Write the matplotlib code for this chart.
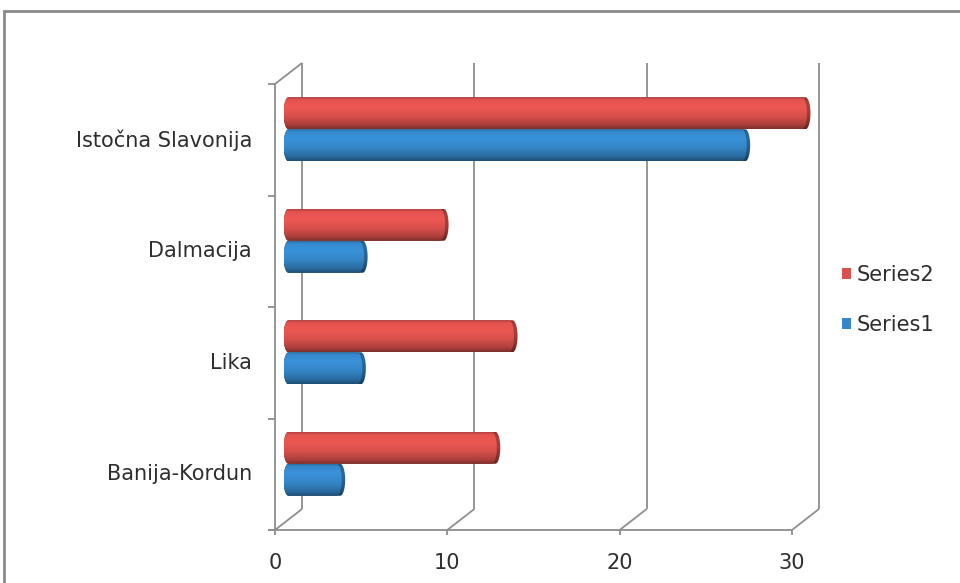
import numpy as np
import matplotlib
matplotlib.use("Agg")
import matplotlib.pyplot as plt
from matplotlib.path import Path
from matplotlib.patches import PathPatch, Patch, Rectangle
import matplotlib.colors as mcolors

plt.rcParams["font.family"] = ["DejaVu Sans"]

# ── data ──────────────────────────────────────
categories = ["Banija-Kordun", "Lika", "Dalmacija", "Istočna Slavonija"]
series1 = [3.0, 4.2, 4.3, 26.5]
series2 = [12.0, 13.0, 9.0, 30.0]
xticks = [0, 10, 20, 30]
series_names = ["Series1", "Series2"]

RED = "#dc514d"
BLUE = "#3587c9"
GRID = "#8e8e8e"
TXT = "#2e2e2e"
FS = 15

# ── figure / pixel-aligned axes ───────────────
W, H = 960, 583
fig = plt.figure(figsize=(W / 100, H / 100), dpi=100, facecolor="white")
ax = fig.add_axes([0, 0, 1, 1])
ax.axis("off")

K = 17.233    # px per value unit
U = 111.5     # px per category band
X0, Y0 = 275, 53  # origin of the front plane (px from left / bottom)

dx = 27 / K   # depth offset of the back wall
dy = 21 / U
ncat = len(categories)

# ── walls, floor, grid ───────────────────────
lkw = dict(color=GRID, lw=1.3, solid_capstyle="butt", zorder=1)
for v in xticks:
    ax.plot([v + dx, v + dx], [dy, ncat + dy], **lkw)        # back wall grid
    ax.plot([v, v + dx], [0, dy], **lkw)                    # floor diagonals
    ax.plot([v, v], [0, -5 / U], **lkw)                     # tick marks
    ax.text(v, -33 / U, str(v), ha="center", va="center",
            fontsize=FS, color=TXT)
ax.plot([-7 / K, xticks[-1]], [0, 0], **lkw)               # front floor edge
ax.plot([0, 0], [0, ncat], **lkw)                           # left wall front edge
ax.plot([0, dx], [ncat, ncat + dy], **lkw)                  # left wall top
for i in range(ncat + 1):
    ax.plot([-7 / K, 0], [i, i], **lkw)

for i, name in enumerate(categories):
    ax.text(-23 / K, i + 0.5, name, ha="right", va="center",
            fontsize=FS, color=TXT)


# ── cylinder bars ─────────────────────────────
def body_path(x0, x1, y0, y1, cw):
    # horizontal cylinder outline with elliptical ends
    yc, ry = (y0 + y1) / 2, (y1 - y0) / 2
    t = np.linspace(np.pi / 2, -np.pi / 2, 30)
    right = np.column_stack([x1 + cw * np.cos(t), yc + ry * np.sin(t)])
    t2 = np.linspace(-np.pi / 2, -3 * np.pi / 2, 30)
    left = np.column_stack([x0 + cw * np.cos(t2), yc + ry * np.sin(t2)])
    verts = np.vstack([[x0, y1], right, left, [x0, y1]])
    codes = [Path.MOVETO] + [Path.LINETO] * (len(verts) - 2) + [Path.CLOSEPOLY]
    return Path(verts, codes)


def shade(color, scale):
    # vertical shading of a cylinder, top row first
    base = np.array(mcolors.to_rgb(color))
    t = np.linspace(0, 1, 64)
    f = np.interp(t, [0, 0.08, 0.3, 0.6, 0.85, 1.0],
                  [0.82, 1.03, 1.08, 0.98, 0.80, 0.58]) * scale
    rows = np.clip(base[None, :] * f[:, None], 0, 1)
    return rows[:, None, :]


def cylinder(x0, x1, y0, y1, color):
    cw = 5 / K
    for xe, sc, z in [(x1, 0.72, 3), (x1 - 3.5 / K, 1.0, 4)]:
        p = PathPatch(body_path(x0, xe, y0, y1, cw), fc="none", ec="none")
        ax.add_patch(p)
        im = ax.imshow(shade(color, sc), extent=[x0 - cw, x1 + cw, y0, y1],
                       aspect="auto", interpolation="bilinear", zorder=z,
                       origin="upper")
        im.set_clip_path(p)


h = 32 / U
for i in range(ncat):
    yc = i + 0.5 + dy / 2
    xs = dx / 2
    cylinder(xs, xs + series2[i], yc, yc + h, RED)
    cylinder(xs, xs + series1[i], yc - h, yc, BLUE)

ax.set_xlim(-X0 / K, (W - X0) / K)
ax.set_ylim(-Y0 / U, (H - Y0) / U)

# ── legend ────────────────────────────────────
handles = [Patch(fc=RED, ec="none"), Patch(fc=BLUE, ec="none")]
fig.legend(handles, [series_names[1], series_names[0]],
           loc="center left", bbox_to_anchor=(823 / W, 1 - 300 / H),
           frameon=False, fontsize=FS, handlelength=0.45, handleheight=0.45,
           handletextpad=0.25, labelspacing=1.45, labelcolor=TXT)

# ── outer chart frame ────────────────────────
fig.patches.append(Rectangle((4 / W, -0.1), 1.2, 1 - 11 / H + 0.1,
                             transform=fig.transFigure, fill=False,
                             ec="#8a8a8a", lw=2.0))

fig.savefig("out.png", dpi=100, facecolor="white")
